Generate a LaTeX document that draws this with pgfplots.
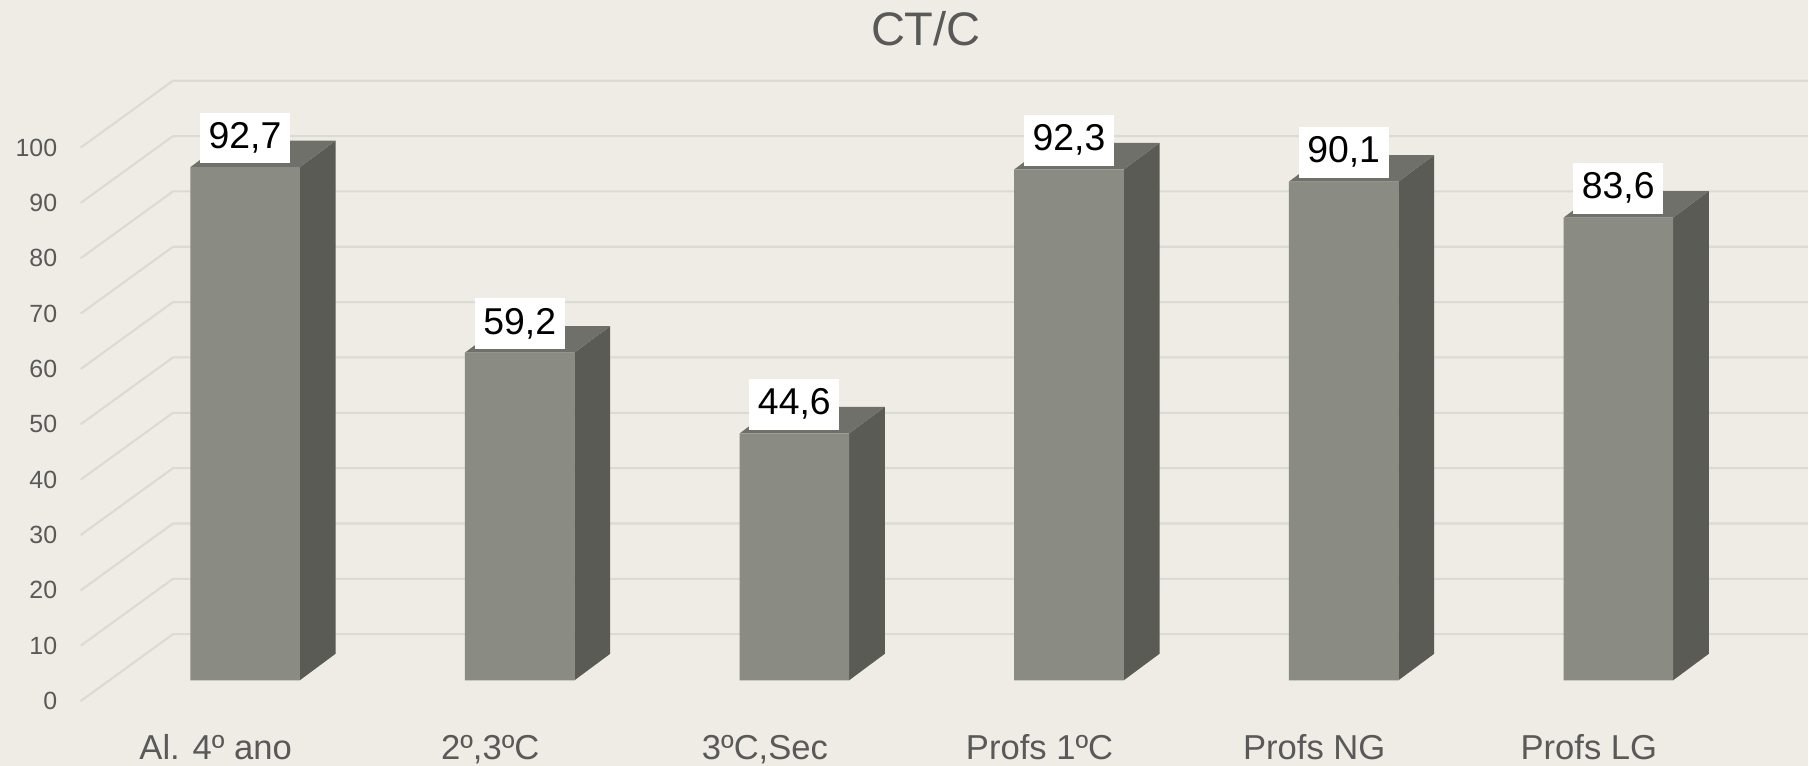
\documentclass[border=0pt]{standalone}
\usepackage{pgfplots}
\pgfplotsset{compat=1.18}
\usepackage{pgfplotstable}
\usepackage{fontspec}
\setmainfont{Liberation Sans}
\definecolor{bgc}{HTML}{EEECE4}
\definecolor{frontc}{HTML}{8A8B83}
\definecolor{sidec}{HTML}{5A5B55}
\definecolor{topc}{HTML}{6E7069}
\definecolor{gridc}{HTML}{DADAD6}
\definecolor{txtc}{HTML}{595959}

\pgfplotstableread{
idx value
0 92.7
1 59.2
2 44.6
3 92.3
4 90.1
5 83.6
}\datatable

\begin{document}
\begin{tikzpicture}
\begin{axis}[
  x=0.5pt, y=2.4pt,
  xmin=0, xmax=1568, ymin=-15.4167, ymax=122.9167,
  enlargelimits=false,
  axis background/.style={fill=bgc},
  axis x line=bottom, axis y line=left,
  axis line style={draw=none},
  tick style={draw=none},
  major tick length=0pt,
  clip=false,
  /pgf/number format/assume math mode=true,
  ytick={0,10,...,100},
  yticklabel style={anchor=east, inner sep=0pt, xshift=25pt, yshift=-9pt, font=\fontsize{10.8}{12}\selectfont, text=txtc},
  xtick={187,425.2,663.4,901.6,1139.8,1378},
  xticklabels={{Al. 4º ano},{2º,3ºC},{3ºC,Sec},{Profs 1ºC},{Profs NG},{Profs LG}},
  xticklabel style={anchor=base, inner sep=0pt, yshift=2.5pt, font=\fontsize{15}{18}\selectfont, text=txtc},
]
% back wall and floor grid
\pgfplotsinvokeforeach{0,10,...,100}{
  \pgfmathsetmacro\ya{#1-3.75}
  \pgfmathsetmacro\yb{#1+8.33}
  \edef\doit{\noexpand\draw[gridc, line width=0.9pt] (axis cs:70,\ya) -- (axis cs:150,\yb) -- (axis cs:1568,\yb);}
  \doit
}
% side and top faces
\pgfplotsinvokeforeach{0,...,5}{
  \pgfplotstablegetelem{#1}{value}\of\datatable
  \let\val\pgfplotsretval
  \pgfmathsetmacro\xr{212.5+238.2*#1+47.5}
  \pgfmathsetmacro\xl{212.5+238.2*#1-47.5}
  \pgfmathsetmacro\xrb{\xr+31}
  \pgfmathsetmacro\xlb{\xl+31}
  \pgfmathsetmacro\vb{\val+4.79}
  \edef\doit{\noexpand\addplot[draw=none, fill=sidec] coordinates {(\xr,0) (\xrb,4.79) (\xrb,\vb) (\xr,\val)};
  \noexpand\addplot[draw=none, fill=topc] coordinates {(\xl,\val) (\xlb,\vb) (\xrb,\vb) (\xr,\val)};}
  \doit
}
% front faces
\addplot[ybar, bar width=95, bar shift=0pt, fill=frontc, draw=none,
  nodes near coords,
  /pgf/number format/.cd, use comma, fixed, fixed zerofill, precision=1, /pgfplots/.cd,
  every node near coord/.append style={fill=white, text=black, font=\fontsize{16.2}{18}\selectfont, inner xsep=3.8pt, inner ysep=0pt, minimum height=22pt, anchor=south, yshift=1.5pt}]
  table[x expr=212.5+238.2*\thisrow{idx}, y=value] {\datatable};
\node[font=\fontsize{20.4}{24}\selectfont, text=txtc] at (axis cs:803,117.7) {CT/C};
\end{axis}
\end{tikzpicture}
\end{document}
